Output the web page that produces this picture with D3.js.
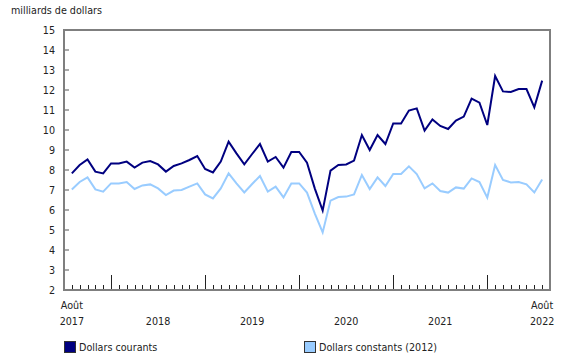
<!DOCTYPE html>
<html lang="fr">
<head>
<meta charset="UTF-8">
<title>milliards de dollars</title>
<script src="https://d3js.org/d3.v7.min.js"></script>
<style>
    body { margin: 0; background: white; }
    svg text { font-family: "DejaVu Sans", Verdana, sans-serif; font-size: 9.6px; fill: #222; }
</style>
</head>
<body>
<svg id="chart" width="580" height="360"></svg>
<script>
// monthly, Aug 2017 .. Aug 2022
const months = d3.range(61).map(i => new Date(2017, 7 + i, 1));

const courants = [
    7.83, 8.25, 8.53, 7.92, 7.83, 8.33, 8.33, 8.42, 8.12, 8.37, 8.45, 8.28,
    7.92, 8.2, 8.33, 8.5, 8.7, 8.05, 7.88, 8.42, 9.42, 8.83, 8.28, 8.8,
    9.3, 8.42, 8.65, 8.12, 8.9, 8.9, 8.37, 7.07, 5.97, 7.97, 8.25, 8.28,
    8.47, 9.75, 9.0, 9.75, 9.3, 10.33, 10.33, 10.97, 11.08, 9.97, 10.53, 10.2,
    10.05, 10.47, 10.67, 11.57, 11.37, 10.25, 12.7, 11.93, 11.9, 12.05, 12.05, 11.13,
    12.47
];
const constants = [
    7.03, 7.4, 7.63, 7.03, 6.92, 7.33, 7.33, 7.4, 7.05, 7.23, 7.28, 7.08,
    6.75, 6.97, 7.0, 7.17, 7.33, 6.78, 6.58, 7.08, 7.83, 7.33, 6.88, 7.3,
    7.7, 6.92, 7.17, 6.63, 7.33, 7.33, 6.87, 5.82, 4.88, 6.47, 6.65, 6.67,
    6.78, 7.75, 7.05, 7.63, 7.2, 7.8, 7.8, 8.18, 7.8, 7.08, 7.33, 6.95,
    6.87, 7.13, 7.07, 7.58, 7.4, 6.62, 8.25, 7.5, 7.38, 7.4, 7.28, 6.88,
    7.53
];

const yTicks = d3.range(2, 16);
const yearLabels = [
    { i: 0, top: "Août", bottom: "2017" },
    { i: 11, top: "", bottom: "2018" },
    { i: 23, top: "", bottom: "2019" },
    { i: 35, top: "", bottom: "2020" },
    { i: 47, top: "", bottom: "2021" },
    { i: 60, top: "Août", bottom: "2022" }
];
const series = [
    { name: "Dollars courants", values: courants, color: "#000080" },
    { name: "Dollars constants (2012)", values: constants, color: "#99ccff" }
];

const plotL = 64, plotR = 550, plotT = 30, plotB = 290;
const svg = d3.select("#chart");

const x = d3.scalePoint()
    .domain(d3.range(months.length))
    .range([plotL, plotR])
    .padding(1);

const y = d3.scaleLinear()
    .domain([2, 15])
    .range([plotB, plotT]);

// unit title
svg.append("text")
    .attr("x", 11).attr("y", 14)
    .text("milliards de dollars");

// y axis labels and inward ticks
const yAxis = svg.append("g");
yAxis.selectAll("text")
    .data(yTicks)
    .enter().append("text")
    .attr("x", 55)
    .attr("y", d => y(d) + 3.5)
    .attr("text-anchor", "end")
    .text(d => d);
yAxis.selectAll("line")
    .data(yTicks)
    .enter().append("line")
    .attr("x1", plotL).attr("x2", plotL + 5)
    .attr("y1", d => y(d)).attr("y2", d => y(d))
    .attr("stroke", "#555").attr("stroke-width", 1);

// x ticks: minor every month, major at January
const xTicks = svg.append("g");
xTicks.selectAll("line")
    .data(months)
    .enter().append("line")
    .attr("x1", (d, i) => Math.round(x(i)) + 0.5)
    .attr("x2", (d, i) => Math.round(x(i)) + 0.5)
    .attr("y1", plotB)
    .attr("y2", d => d.getMonth() === 0 ? plotB - 15 : plotB - 5)
    .attr("stroke", "#222").attr("stroke-width", 1);

// frame
svg.append("rect")
    .attr("x", plotL).attr("y", plotT)
    .attr("width", plotR - plotL).attr("height", plotB - plotT)
    .attr("fill", "none")
    .attr("stroke", "#7f7f7f").attr("stroke-width", 2);

// year labels
const yl = svg.append("g");
yl.selectAll("text.top")
    .data(yearLabels)
    .enter().append("text")
    .attr("class", "top")
    .attr("x", d => x(d.i))
    .attr("y", 309)
    .attr("text-anchor", "middle")
    .text(d => d.top);
yl.selectAll("text.bot")
    .data(yearLabels)
    .enter().append("text")
    .attr("class", "bot")
    .attr("x", d => x(d.i))
    .attr("y", 325)
    .attr("text-anchor", "middle")
    .text(d => d.bottom);

// lines
const line = d3.line()
    .x((d, i) => x(i))
    .y(d => y(d));

svg.selectAll("path.series")
    .data(series.slice().reverse())
    .enter().append("path")
    .attr("class", "series")
    .attr("d", d => line(d.values))
    .attr("fill", "none")
    .attr("stroke", d => d.color)
    .attr("stroke-width", 2)
    .attr("stroke-linejoin", "miter");

// legend
const legendX = [64, 304];
const legend = svg.selectAll("g.legend")
    .data(series)
    .enter().append("g")
    .attr("class", "legend")
    .attr("transform", (d, i) => `translate(${legendX[i]},341)`);
legend.append("rect")
    .attr("x", 0.5).attr("y", 0.5)
    .attr("width", 11).attr("height", 11)
    .attr("fill", d => d.color)
    .attr("stroke", "#333").attr("stroke-width", 1);
legend.append("text")
    .attr("x", 15).attr("y", 10)
    .text(d => d.name);
</script>
</body>
</html>
